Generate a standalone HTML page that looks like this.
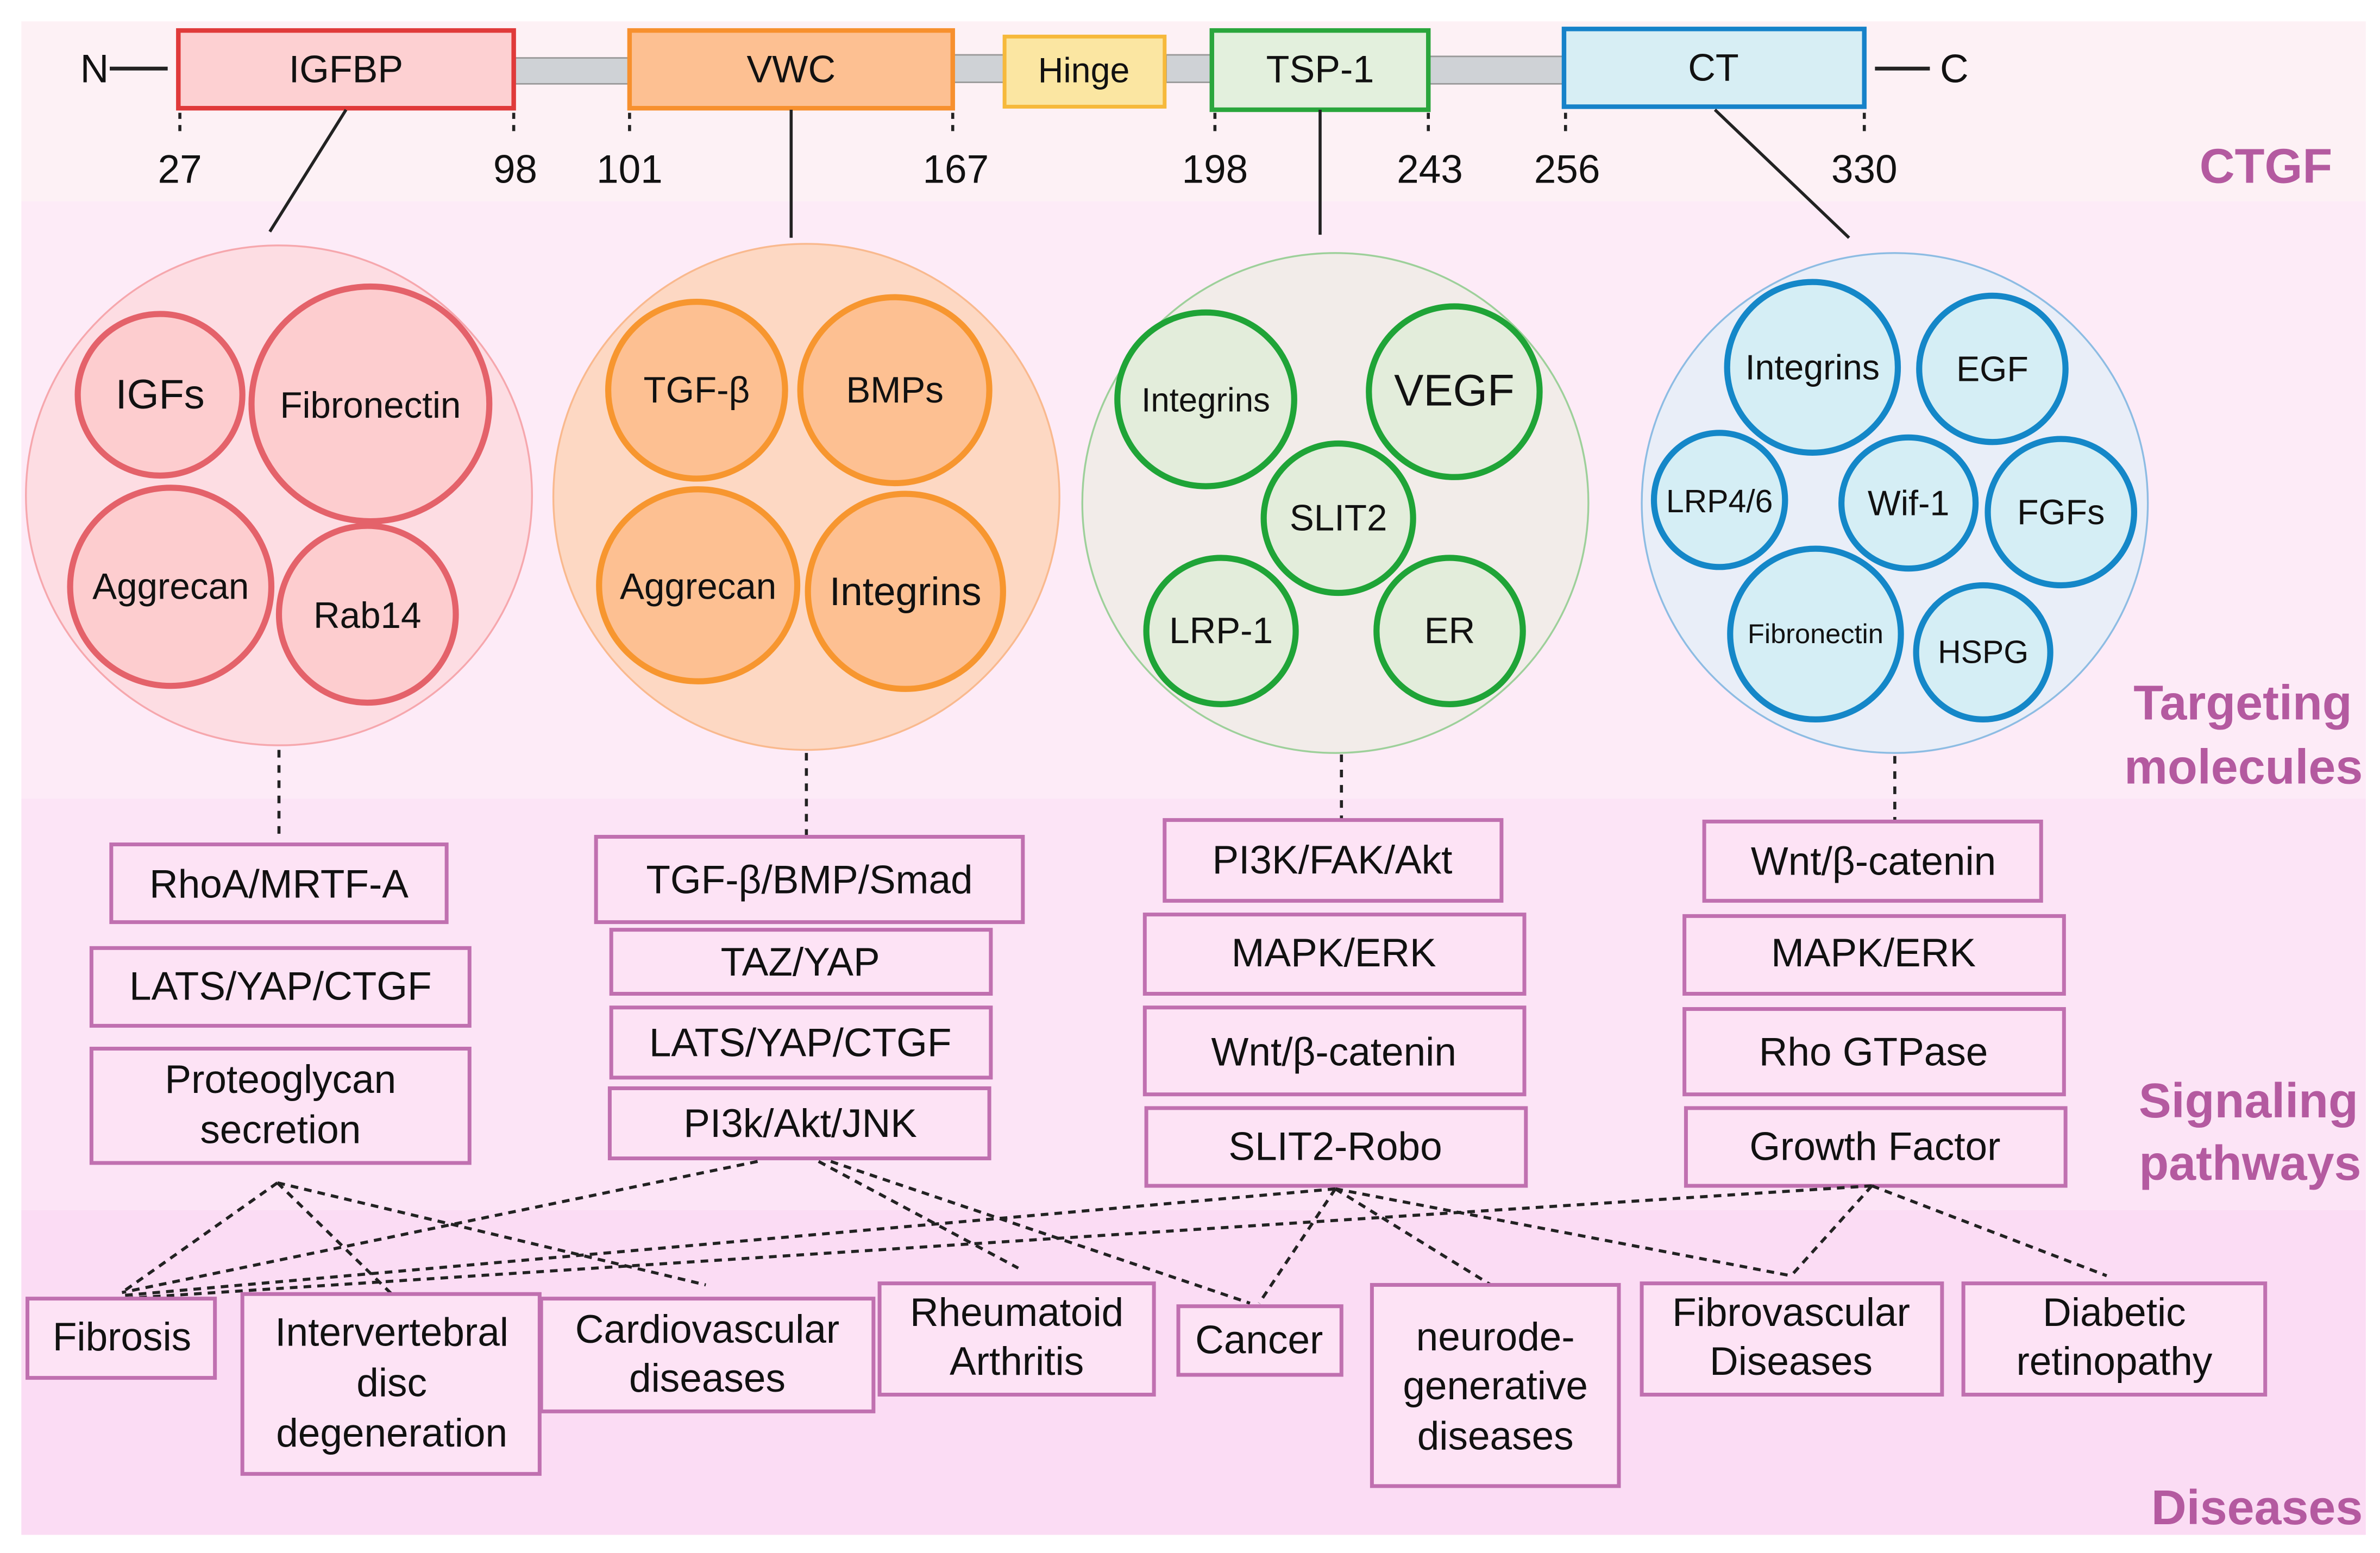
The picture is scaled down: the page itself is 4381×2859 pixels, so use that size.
<!DOCTYPE html>
<html><head><meta charset="utf-8"><style>
html,body{margin:0;padding:0;background:#fff;}
svg{display:block;}
text{font-family:"Liberation Sans",sans-serif;}
</style></head><body>
<svg width="4381" height="2859" viewBox="0 0 1561.3 1018.9" preserveAspectRatio="none" xmlns="http://www.w3.org/2000/svg">
<rect x="0" y="0" width="1561.3" height="1018.9" fill="#fff"/>
<rect x="14" y="14" width="1538" height="118" fill="#fdf1f5"/>
<rect x="14" y="132" width="1538" height="392" fill="#fdebf7"/>
<rect x="14" y="524" width="1538" height="270" fill="#fce4f6"/>
<rect x="14" y="794" width="1538" height="213" fill="#fbdcf4"/>

<!-- domain bar -->
<g stroke="#999" stroke-width="1" fill="#cfd2d6">
<rect x="338" y="38" width="76" height="17"/>
<rect x="625" y="36" width="34" height="18"/>
<rect x="765" y="36" width="30" height="18"/>
<rect x="937" y="37" width="90" height="18"/>
</g>
<line x1="72" y1="45" x2="110" y2="45" stroke="#222" stroke-width="2.5"/>
<line x1="1230" y1="45" x2="1266" y2="45" stroke="#222" stroke-width="2.5"/>
<text x="62" y="54" font-size="26" text-anchor="middle" fill="#111">N</text>
<text x="1282" y="54" font-size="26" text-anchor="middle" fill="#111">C</text>
<rect x="117" y="20" width="220" height="51" fill="#fdd0d2" stroke="#e03a3a" stroke-width="3"/>
<text x="227" y="54" font-size="25" text-anchor="middle" fill="#111">IGFBP</text>
<rect x="413" y="20" width="212" height="51" fill="#fdc092" stroke="#f7902e" stroke-width="3"/>
<text x="519" y="54" font-size="25" text-anchor="middle" fill="#111">VWC</text>
<rect x="659" y="24" width="105" height="46" fill="#fbe6a2" stroke="#f6b93b" stroke-width="2.5"/>
<text x="711" y="54" font-size="23" text-anchor="middle" fill="#111">Hinge</text>
<rect x="795" y="20" width="142" height="52" fill="#e3f0dd" stroke="#2aa63c" stroke-width="3"/>
<text x="866" y="54" font-size="25" text-anchor="middle" fill="#111">TSP-1</text>
<rect x="1026" y="19" width="197" height="51" fill="#d7eef4" stroke="#1682c9" stroke-width="3"/>
<text x="1124" y="53" font-size="25" text-anchor="middle" fill="#111">CT</text>
<g stroke="#222" stroke-width="2" stroke-dasharray="4,4">
<line x1="118" y1="74" x2="118" y2="90"/><line x1="337" y1="74" x2="337" y2="90"/>
<line x1="413" y1="74" x2="413" y2="90"/><line x1="625" y1="74" x2="625" y2="90"/>
<line x1="797" y1="74" x2="797" y2="90"/><line x1="937" y1="74" x2="937" y2="90"/>
<line x1="1027" y1="74" x2="1027" y2="90"/><line x1="1223" y1="74" x2="1223" y2="90"/>
</g>
<g font-size="26" text-anchor="middle" fill="#111">
<text x="118" y="120">27</text><text x="338" y="120">98</text><text x="413" y="120">101</text><text x="627" y="120">167</text>
<text x="797" y="120">198</text><text x="938" y="120">243</text><text x="1028" y="120">256</text><text x="1223" y="120">330</text>
</g>
<g font-weight="bold" fill="#b45aa0" text-anchor="end">
<text x="1530" y="120" font-size="32">CTGF</text>
<text x="1543" y="472" font-size="32">Targeting</text>
<text x="1550" y="514" font-size="32">molecules</text>
<text x="1547" y="733" font-size="32">Signaling</text>
<text x="1549" y="774" font-size="32">pathways</text>
<text x="1550" y="1000" font-size="32">Diseases</text>
</g>

<!-- connectors from domains -->
<g stroke="#222" stroke-width="2">
<line x1="227" y1="72" x2="177" y2="152"/>
<line x1="519" y1="72" x2="519" y2="156"/>
<line x1="866" y1="72" x2="866" y2="154"/>
<line x1="1125" y1="72" x2="1213" y2="156"/>
</g>

<!-- big circles -->
<ellipse cx="183" cy="325" rx="166" ry="164" fill="#fddde3" stroke="#f6a7ad" stroke-width="1.2"/>
<ellipse cx="529" cy="326" rx="166" ry="166" fill="#fdd8c3" stroke="#f9b98e" stroke-width="1.2"/>
<ellipse cx="876" cy="330" rx="166" ry="164" fill="#f2ece9" stroke="#9dd09a" stroke-width="1.2"/>
<ellipse cx="1243" cy="330" rx="166" ry="164" fill="#e9eef8" stroke="#8dbce3" stroke-width="1.2"/>

<g font-size="24" text-anchor="middle" fill="#111">
<g fill="#fdcdcf" stroke="#e4626a" stroke-width="4">
<ellipse cx="105" cy="259" rx="54" ry="53"/>
<ellipse cx="243" cy="265" rx="78" ry="77"/>
<ellipse cx="112" cy="385" rx="66" ry="65"/>
<ellipse cx="241" cy="403" rx="58" ry="58"/>
</g>
<text x="105" y="268" font-size="27">IGFs</text>
<text x="243" y="274">Fibronectin</text>
<text x="112" y="393">Aggrecan</text>
<text x="241" y="412">Rab14</text>

<g fill="#fdc092" stroke="#f7962f" stroke-width="4">
<ellipse cx="457" cy="256" rx="58" ry="58"/>
<ellipse cx="587" cy="256" rx="62" ry="61"/>
<ellipse cx="458" cy="384" rx="65" ry="63"/>
<ellipse cx="594" cy="388" rx="64" ry="64"/>
</g>
<text x="457" y="264">TGF-β</text>
<text x="587" y="264">BMPs</text>
<text x="458" y="393">Aggrecan</text>
<text x="594" y="397" font-size="26">Integrins</text>

<g fill="#e3eddb" stroke="#1fa437" stroke-width="4">
<ellipse cx="791" cy="262" rx="58" ry="57"/>
<ellipse cx="954" cy="257" rx="56" ry="56"/>
<ellipse cx="878" cy="340" rx="49" ry="49"/>
<ellipse cx="801" cy="414" rx="49" ry="48"/>
<ellipse cx="951" cy="414" rx="48" ry="48"/>
</g>
<text x="791" y="270" font-size="22">Integrins</text>
<text x="954" y="266" font-size="29">VEGF</text>
<text x="878" y="348">SLIT2</text>
<text x="801" y="422">LRP-1</text>
<text x="951" y="422">ER</text>

<g fill="#d5eef5" stroke="#1487c8" stroke-width="4">
<ellipse cx="1189" cy="241" rx="56" ry="56"/>
<ellipse cx="1307" cy="242" rx="48" ry="48"/>
<ellipse cx="1128" cy="328" rx="43" ry="44"/>
<ellipse cx="1252" cy="330" rx="44" ry="43"/>
<ellipse cx="1352" cy="336" rx="48" ry="48"/>
<ellipse cx="1191" cy="416" rx="56" ry="56"/>
<ellipse cx="1301" cy="428" rx="44" ry="44"/>
</g>
<text x="1189" y="249" font-size="23">Integrins</text>
<text x="1307" y="250" font-size="23">EGF</text>
<text x="1128" y="336" font-size="21">LRP4/6</text>
<text x="1252" y="338" font-size="23">Wif-1</text>
<text x="1352" y="344" font-size="23">FGFs</text>
<text x="1191" y="422" font-size="18">Fibronectin</text>
<text x="1301" y="435" font-size="21">HSPG</text>
</g>

<!-- dotted from circles to pathways -->
<g stroke="#222" stroke-width="2" stroke-dasharray="5,5">
<line x1="183" y1="492" x2="183" y2="552"/>
<line x1="529" y1="494" x2="529" y2="548"/>
<line x1="880" y1="495" x2="880" y2="538"/>
<line x1="1243" y1="496" x2="1243" y2="538"/>
</g>

<!-- pathway boxes -->
<g fill="#fde3f5" stroke="#c070b0" stroke-width="2.5">
<rect x="73" y="554" width="220" height="51"/>
<rect x="60" y="622" width="248" height="51"/>
<rect x="60" y="688" width="248" height="75"/>
<rect x="391" y="549" width="280" height="56"/>
<rect x="401" y="610" width="249" height="42"/>
<rect x="401" y="661" width="249" height="46"/>
<rect x="400" y="714" width="249" height="46"/>
<rect x="764" y="538" width="221" height="53"/>
<rect x="751" y="600" width="249" height="52"/>
<rect x="751" y="661" width="249" height="57"/>
<rect x="752" y="727" width="249" height="51"/>
<rect x="1118" y="539" width="221" height="52"/>
<rect x="1105" y="601" width="249" height="51"/>
<rect x="1105" y="662" width="249" height="56"/>
<rect x="1106" y="727" width="249" height="51"/>
</g>
<g font-size="26" text-anchor="middle" fill="#111">
<text x="183" y="589">RhoA/MRTF-A</text>
<text x="184" y="656">LATS/YAP/CTGF</text>
<text x="184" y="717">Proteoglycan</text>
<text x="184" y="750">secretion</text>
<text x="531" y="586">TGF-β/BMP/Smad</text>
<text x="525" y="640">TAZ/YAP</text>
<text x="525" y="693">LATS/YAP/CTGF</text>
<text x="525" y="746">PI3k/Akt/JNK</text>
<text x="874" y="573">PI3K/FAK/Akt</text>
<text x="875" y="634">MAPK/ERK</text>
<text x="875" y="699">Wnt/β-catenin</text>
<text x="876" y="761">SLIT2-Robo</text>
<text x="1229" y="574">Wnt/β-catenin</text>
<text x="1229" y="634">MAPK/ERK</text>
<text x="1229" y="699">Rho GTPase</text>
<text x="1230" y="761">Growth Factor</text>
</g>

<!-- disease connectors -->
<g stroke="#222" stroke-width="2" stroke-dasharray="5,4" fill="none">
<line x1="182" y1="776" x2="80" y2="848"/>
<line x1="182" y1="776" x2="258" y2="850"/>
<line x1="182" y1="776" x2="463" y2="843"/>
<line x1="497" y1="762" x2="80" y2="848"/>
<line x1="537" y1="762" x2="668" y2="832"/>
<line x1="545" y1="762" x2="820" y2="855"/>
<line x1="876" y1="780" x2="80" y2="850"/>
<line x1="876" y1="780" x2="826" y2="855"/>
<line x1="876" y1="780" x2="978" y2="843"/>
<line x1="876" y1="780" x2="1175" y2="837"/>
<line x1="1228" y1="778" x2="80" y2="852"/>
<line x1="1228" y1="778" x2="1175" y2="837"/>
<line x1="1228" y1="778" x2="1382" y2="837"/>
</g>

<!-- disease boxes -->
<g fill="#fde3f5" stroke="#c070b0" stroke-width="2.5">
<rect x="18" y="852" width="123" height="52"/>
<rect x="159" y="849" width="195" height="118"/>
<rect x="355" y="852" width="218" height="74"/>
<rect x="577" y="842" width="180" height="73"/>
<rect x="773" y="857" width="107" height="45"/>
<rect x="900" y="843" width="162" height="132"/>
<rect x="1077" y="842" width="197" height="73"/>
<rect x="1288" y="842" width="198" height="73"/>
</g>
<g font-size="26" text-anchor="middle" fill="#111">
<text x="80" y="886">Fibrosis</text>
<text x="257" y="883">Intervertebral</text>
<text x="257" y="916">disc</text>
<text x="257" y="949">degeneration</text>
<text x="464" y="881">Cardiovascular</text>
<text x="464" y="913">diseases</text>
<text x="667" y="870">Rheumatoid</text>
<text x="667" y="902">Arthritis</text>
<text x="826" y="888">Cancer</text>
<text x="981" y="886">neurode-</text>
<text x="981" y="918">generative</text>
<text x="981" y="951">diseases</text>
<text x="1175" y="870">Fibrovascular</text>
<text x="1175" y="902">Diseases</text>
<text x="1387" y="870">Diabetic</text>
<text x="1387" y="902">retinopathy</text>
</g>
</svg>
</body></html>
